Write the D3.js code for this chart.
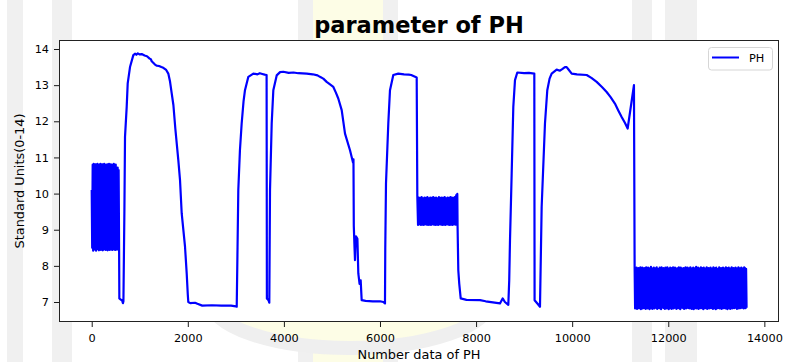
<!DOCTYPE html>
<html><head><meta charset="utf-8">
<script src="https://cdn.jsdelivr.net/npm/d3@7"></script>
<style>
body{margin:0;background:#fff}
svg{display:block}
text{font-family:"DejaVu Sans",sans-serif}
</style>
</head><body>
<svg id="c" width="785" height="362"></svg>
<script>
// ---------------- data ----------------
const titleText = "parameter of PH";
const xLabel = "Number data of PH";
const yLabel = "Standard Units(0-14)";
const seriesName = "PH";
const xTicks = [0, 2000, 4000, 6000, 8000, 10000, 12000, 14000];
const yTicks = [7, 8, 9, 10, 11, 12, 13, 14];

// first oscillating block (index 0 .. ~570, sampled every 10)
const band1Start = 0, band1Step = 10;
const band1Values = [10.1, 8.5, 10.8, 8.42, 10.82, 8.47, 10.8, 8.45, 10.81, 8.42,
  10.8, 8.48, 10.82, 8.46, 10.79, 8.43, 10.8, 8.45, 10.82, 8.44,
  10.8, 8.47, 10.81, 8.43, 10.8, 8.45, 10.82, 8.46, 10.8, 8.44,
  10.79, 8.45, 10.81, 8.43, 10.8, 8.46, 10.82, 8.44, 10.8, 8.45,
  10.81, 8.45, 10.78, 8.44, 10.8, 8.46, 10.82, 8.45, 10.75, 8.44,
  10.8, 8.45, 10.7, 8.45, 10.72, 8.46, 10.65, 8.45];

// smooth section after block 1
const trace1 = [[575,7.1],[600,7.07],[630,7.05],[650,6.97],[660,7.02],[680,9.5],[693,11.57],
  [728,12.4],[749,13.05],[797,13.5],[866,13.83],[905,13.87],[930,13.84],[960,13.88],[1000,13.85],[1040,13.86],[1100,13.82],
  [1150,13.8],[1200,13.74],[1230,13.72],[1249,13.66],[1280,13.62],[1317,13.57],[1350,13.54],[1400,13.53],[1450,13.5],[1490,13.48],[1550,13.42],
  [1594,13.32],[1630,13.1],[1665,12.77],[1700,12.45],[1740,11.8],[1802,10.93],[1838,10.37],
  [1873,9.45],[1942,8.53],[1977,7.79],[2000,7.2],[2010,7.0],[2050,6.97],[2150,6.98],[2200,6.95],
  [2300,6.9],[2500,6.91],[2700,6.9],[2900,6.9],[3000,6.88],[3018,6.87],
  [3035,8.5],[3051,10.1],[3085,11.2],[3121,11.94],[3160,12.55],[3190,12.86],[3260,13.23],
  [3364,13.32],[3450,13.3],[3500,13.33],[3550,13.31],[3600,13.29],[3640,13.28],[3646,7.1],[3680,7.05],[3696,6.98],
  [3711,10.1],[3746,11.94],[3780,12.86],[3850,13.27],[3920,13.36],[3988,13.37],[4100,13.34],[4200,13.35],[4300,13.33],[4475,13.32],
  [4600,13.3],[4700,13.27],[4751,13.23],[4820,13.18],[4890,13.09],[4960,13.02],[5029,12.95],[5080,12.8],[5132,12.63],[5203,12.31],[5272,11.66],
  [5376,11.2],[5440,10.85],[5448,10.95],[5455,9.1],[5470,8.5],[5480,8.16],[5490,8.6],
  [5500,8.82],[5530,8.75],[5549,7.79],[5575,7.5],[5598,7.6],[5619,7.05],[5700,7.03],
  [5850,7.02],[6000,7.02],[6069,7.0],[6104,6.96],[6110,8.5],[6125,10.28],[6173,11.94],
  [6208,12.86],[6277,13.28],[6381,13.32],[6500,13.3],[6600,13.29],[6650,13.28],[6764,13.21]];

// second oscillating block (index ~6777 .. ~7602, sampled every 15)
const band2Start = 6777, band2Step = 15;
const band2Values = [9.93, 9.13, 9.89, 9.15, 9.88, 9.13, 9.9, 9.14, 9.87, 9.13,
  9.89, 9.15, 9.88, 9.14, 9.9, 9.13, 9.87, 9.14, 9.89, 9.13,
  9.88, 9.15, 9.9, 9.14, 9.88, 9.13, 9.89, 9.14, 9.87, 9.13,
  9.9, 9.15, 9.88, 9.14, 9.89, 9.13, 9.88, 9.14, 9.9, 9.13,
  9.87, 9.15, 9.89, 9.14, 9.88, 9.13, 9.9, 9.14, 9.89, 9.13,
  9.88, 9.15, 9.9, 9.14, 9.96, 9.13];

// smooth section after block 2
const trace2 = [[7609,9.99],[7615,9.08],[7630,7.88],[7650,7.5],[7680,7.1],[7800,7.06],
  [8082,7.05],[8200,7.02],[8350,6.99],[8497,6.96],[8553,7.1],[8600,7.0],[8671,6.92],
  [8690,7.6],[8706,8.71],[8741,10.56],[8775,12.4],[8810,13.14],[8858,13.35],[9000,13.33],
  [9100,13.34],[9212,13.32],[9218,7.05],[9280,6.95],[9330,6.87],[9365,9.63],[9434,11.94],
  [9482,12.86],[9530,13.18],[9573,13.32],[9677,13.43],[9746,13.4],[9800,13.45],[9850,13.5],
  [9885,13.5],[9920,13.44],[9990,13.32],[10100,13.3],[10302,13.28],[10400,13.2],[10510,13.09],
  [10620,12.95],[10718,12.81],[10800,12.67],[10890,12.49],[10960,12.3],[11030,12.12],
  [11100,11.95],[11155,11.8],[11286,13.0]];

// third oscillating block (index 11300 .. ~13630, sampled every 10)
const band3Start = 11300, band3Step = 10;
const band3Values = [
  7.96, 6.82, 7.93, 6.85, 7.95, 6.81, 7.9, 6.84, 7.94, 6.83,
  7.92, 6.86, 7.96, 6.8, 7.91, 6.84, 7.95, 6.82, 7.89, 6.87,
  7.94, 6.83, 7.93, 6.81, 7.96, 6.85, 7.9, 6.82, 7.95, 6.84,
  7.92, 6.8, 7.94, 6.86, 7.97, 6.83, 7.91, 6.81, 7.93, 6.85,
  7.95, 6.82, 7.88, 6.84, 7.94, 6.87, 7.96, 6.81, 7.92, 6.83,
  7.9, 6.85, 7.95, 6.82, 7.93, 6.8, 7.96, 6.84, 7.91, 6.86,
  7.94, 6.83, 7.92, 6.81, 7.95, 6.85, 7.89, 6.82, 7.96, 6.84,
  7.93, 6.8, 7.91, 6.86, 7.95, 6.83, 7.94, 6.81, 7.9, 6.85,
  7.96, 6.82, 7.92, 6.84, 7.95, 6.87, 7.93, 6.81, 7.88, 6.83,
  7.94, 6.85, 7.96, 6.82, 7.91, 6.8, 7.95, 6.84, 7.93, 6.86,
  7.9, 6.83, 7.94, 6.81, 7.92, 6.85, 7.96, 6.82, 7.93, 6.84,
  7.95, 6.84, 7.91, 6.83, 7.94, 6.82, 7.96, 6.85, 7.92, 6.81,
  7.93, 6.86, 7.95, 6.8, 7.9, 6.84, 7.94, 6.83, 7.97, 6.82,
  7.91, 6.85, 7.95, 6.81, 7.93, 6.87, 7.89, 6.83, 7.96, 6.84,
  7.92, 6.82, 7.94, 6.8, 7.95, 6.85, 7.91, 6.83, 7.93, 6.86,
  7.96, 6.81, 7.9, 6.84, 7.94, 6.82, 7.92, 6.85, 7.95, 6.83,
  7.88, 6.86, 7.93, 6.81, 7.96, 6.84, 7.91, 6.82, 7.94, 6.8,
  7.95, 6.85, 7.92, 6.83, 7.9, 6.87, 7.96, 6.82, 7.93, 6.84,
  7.94, 6.81, 7.91, 6.85, 7.95, 6.83, 7.93, 6.86, 7.89, 6.82,
  7.96, 6.84, 7.92, 6.8, 7.94, 6.85, 7.95, 6.83, 7.91, 6.81,
  7.93, 6.86, 7.96, 6.82, 7.9, 6.84, 7.94, 6.83, 7.92, 6.84,
  7.95, 6.85, 7.93, 6.81, 7.91, 6.84, 7.96, 6.82, 7.94, 6.86,
  7.92, 6.83, 7.95, 7.05, 7.93, 6.84, 7.9, 6.82, 7.96, 6.85,
  7.94, 6.83, 7.92, 6.84];

// ---------------- build series ----------------
const bandPts = (start, step, vals) => vals.map((v, i) => [start + i * step, v]);
const series = [].concat(
  bandPts(band1Start, band1Step, band1Values),
  trace1,
  bandPts(band2Start, band2Step, band2Values),
  trace2,
  bandPts(band3Start, band3Step, band3Values)
);

// ---------------- layout ----------------
const plot = {l: 59, t: 40, r: 779, b: 322};
const svg = d3.select("#c");

// faint background watermark (outside the axes)
const wm = svg.append("g");
wm.append("rect").attr("x",313).attr("y",0).attr("width",70).attr("height",362).attr("fill","#fdfde6");
[[7,16],[52,20],[298,15],[383,15],[632,20],[665,32]].forEach(([x0,w])=>{
  wm.append("rect").attr("x",x0).attr("y",0).attr("width",w).attr("height",362).attr("fill","#f0f0f0");
});
wm.append("ellipse").attr("cx",350).attr("cy",300).attr("rx",140).attr("ry",48)
  .attr("fill","#fdfde6").attr("stroke","#efefef").attr("stroke-width",14);

const x = d3.scaleLinear().domain([-681, 14305]).range([plot.l, plot.r]);
const y = d3.scaleLinear().domain([6.447, 14.249]).range([plot.b, plot.t]);

// axes background
svg.append("rect").attr("x",plot.l).attr("y",plot.t)
  .attr("width",plot.r-plot.l).attr("height",plot.b-plot.t).attr("fill","#fff");

svg.append("defs").append("clipPath").attr("id","clip").append("rect")
  .attr("x",plot.l).attr("y",plot.t).attr("width",plot.r-plot.l).attr("height",plot.b-plot.t);

const line = d3.line().x(d => x(d[0])).y(d => y(d[1]));
svg.append("path").datum(series).attr("clip-path","url(#clip)")
  .attr("d", line).attr("fill","none").attr("stroke","#0000ff")
  .attr("stroke-width",2.2).attr("stroke-linejoin","round");

// axes
const gx = svg.append("g").attr("transform",`translate(0,${plot.b})`)
  .call(d3.axisBottom(x).tickValues(xTicks).tickSize(5).tickPadding(7).tickFormat(d3.format("d")));
const gy = svg.append("g").attr("transform",`translate(${plot.l},0)`)
  .call(d3.axisLeft(y).tickValues(yTicks).tickSize(5).tickPadding(5).tickFormat(d3.format("d")));
[gx, gy].forEach(g => {
  g.select(".domain").remove();
  g.selectAll(".tick line").attr("stroke","#000").attr("stroke-width",0.9);
  g.selectAll(".tick text").attr("fill","#000").style("font-size","11.3px")
    .style("font-family","'DejaVu Sans',sans-serif");
});

// spines
svg.append("rect").attr("x",plot.l+0.5).attr("y",plot.t+0.5)
  .attr("width",plot.r-plot.l-1).attr("height",plot.b-plot.t-1)
  .attr("fill","none").attr("stroke","#222").attr("stroke-width",1);

// title and labels
svg.append("text").attr("x",(plot.l+plot.r)/2).attr("y",33).attr("text-anchor","middle")
  .style("font-size","22.5px").style("font-weight","bold").attr("fill","#000").text(titleText);
svg.append("text").attr("x",(plot.l+plot.r)/2).attr("y",359).attr("text-anchor","middle")
  .style("font-size","12.9px").attr("fill","#000").text(xLabel);
svg.append("text").attr("transform",`translate(24,${(plot.t+plot.b)/2}) rotate(-90)`)
  .attr("text-anchor","middle").style("font-size","12.9px").attr("fill","#000").text(yLabel);

// legend
const lg = svg.append("g");
lg.append("rect").attr("x",708.5).attr("y",47.5).attr("width",64).attr("height",22.5).attr("rx",3)
  .attr("fill","#fff").attr("fill-opacity",0.8).attr("stroke","#d6d6d6");
lg.append("line").attr("x1",712).attr("x2",739).attr("y1",57.5).attr("y2",57.5)
  .attr("stroke","#0000ff").attr("stroke-width",2);
lg.append("text").attr("x",749).attr("y",62).style("font-size","11.3px").attr("fill","#000").text(seriesName);
</script>
</body></html>
